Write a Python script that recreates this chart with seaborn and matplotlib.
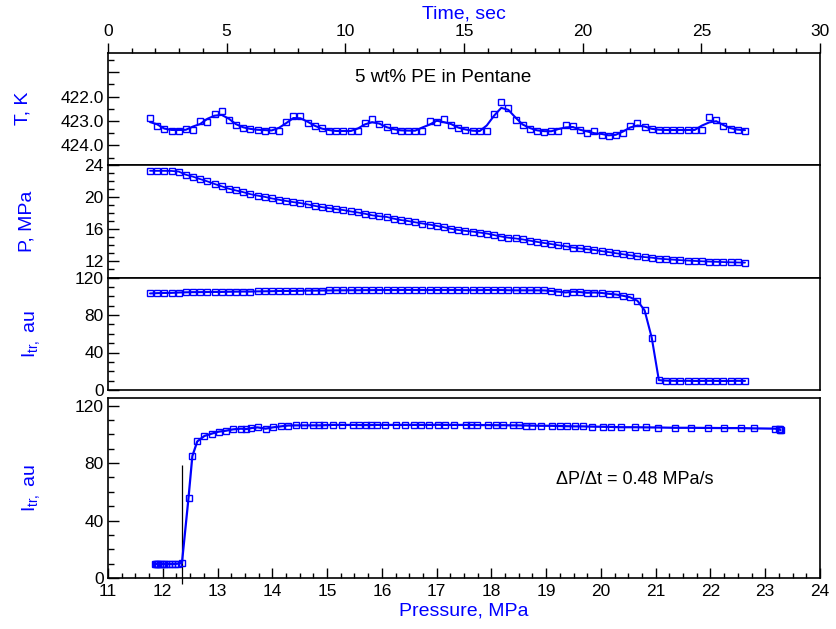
import numpy as np
import pandas as pd
import matplotlib
matplotlib.use("Agg")
import matplotlib.pyplot as plt
from matplotlib.ticker import MultipleLocator, FixedLocator, FixedFormatter
import seaborn as sns

# ---- measured series (one sample every ~0.3 s) ----
time_s = [1.77, 2.07, 2.37, 2.68, 2.98, 3.28, 3.58, 3.88, 4.19, 4.49,
          4.79, 5.09, 5.39, 5.70, 6.00, 6.30, 6.60, 6.90, 7.21, 7.51,
          7.81, 8.11, 8.41, 8.72, 9.02, 9.32, 9.62, 9.92, 10.23, 10.53,
          10.83, 11.13, 11.43, 11.74, 12.04, 12.34, 12.64, 12.94, 13.25, 13.55,
          13.85, 14.15, 14.45, 14.76, 15.06, 15.36, 15.66, 15.96, 16.27, 16.57,
          16.87, 17.17, 17.47, 17.78, 18.08, 18.38, 18.68, 18.98, 19.29, 19.59,
          19.89, 20.19, 20.49, 20.80, 21.10, 21.40, 21.70, 22.00, 22.31, 22.61,
          22.91, 23.21, 23.51, 23.82, 24.12, 24.42, 24.72, 25.02, 25.33, 25.63,
          25.93, 26.23, 26.53, 26.84]

temperature_K = [422.87, 423.22, 423.32, 423.39, 423.39, 423.33, 423.36, 422.99, 423.03, 422.71,
                 422.61, 422.94, 423.17, 423.28, 423.33, 423.36, 423.39, 423.37, 423.40, 423.06,
                 422.80, 422.78, 423.09, 423.22, 423.29, 423.43, 423.40, 423.40, 423.43, 423.40,
                 423.09, 422.92, 423.14, 423.26, 423.36, 423.39, 423.40, 423.39, 423.40, 423.00,
                 423.05, 422.92, 423.17, 423.28, 423.36, 423.40, 423.43, 423.41, 422.71, 422.22,
                 422.46, 422.96, 423.16, 423.31, 423.40, 423.44, 423.41, 423.41, 423.17, 423.21,
                 423.36, 423.51, 423.41, 423.58, 423.60, 423.58, 423.51, 423.20, 423.09, 423.26,
                 423.33, 423.37, 423.37, 423.37, 423.37, 423.37, 423.37, 423.36, 422.84, 422.98,
                 423.21, 423.31, 423.36, 423.39]

pressure_MPa = [23.28, 23.27, 23.27, 23.26, 23.18, 22.79, 22.55, 22.25, 21.96, 21.64,
                21.35, 21.05, 20.83, 20.62, 20.37, 20.19, 20.04, 19.84, 19.67, 19.52,
                19.38, 19.26, 19.10, 18.91, 18.75, 18.63, 18.50, 18.39, 18.22, 18.09,
                17.93, 17.74, 17.62, 17.54, 17.32, 17.15, 17.03, 16.87, 16.72, 16.58,
                16.42, 16.26, 16.06, 15.91, 15.80, 15.71, 15.59, 15.47, 15.28, 15.10,
                14.95, 14.86, 14.74, 14.58, 14.43, 14.29, 14.16, 14.01, 13.88, 13.73,
                13.62, 13.52, 13.43, 13.28, 13.16, 13.02, 12.89, 12.76, 12.63, 12.54,
                12.47, 12.35, 12.28, 12.22, 12.16, 12.11, 12.06, 12.02, 11.98, 11.95,
                11.92, 11.89, 11.87, 11.85]

intensity_au = [103.0, 103.3, 103.5, 103.6, 104.0, 104.2, 104.4, 104.4, 104.5, 104.6,
                104.6, 104.8, 104.9, 105.0, 105.0, 105.2, 105.3, 105.4, 105.6, 105.6,
                105.7, 105.8, 106.0, 106.0, 106.1, 106.2, 106.3, 106.3, 106.4, 106.4,
                106.5, 106.5, 106.6, 106.6, 106.6, 106.6, 106.7, 106.6, 106.6, 106.6,
                106.6, 106.6, 106.6, 106.6, 106.5, 106.5, 106.5, 106.6, 106.6, 106.6,
                106.4, 106.3, 106.3, 106.3, 106.3, 106.2, 105.6, 104.9, 104.0, 104.9,
                104.4, 103.7, 104.0, 103.5, 102.6, 101.9, 100.5, 98.9, 95.1, 84.9,
                55.8, 10.5, 10.0, 9.8, 9.7, 9.8, 9.6, 9.7, 9.8, 9.7,
                9.6, 9.7, 9.8, 9.7]

# cloud-point marker in the pressure scan
cloud_point_MPa = 12.35
cloud_marker_span = (-4, 79)

sample_label = "5 wt% PE in Pentane"
rate_label = "\u0394P/\u0394t = 0.48 MPa/s"

# ---- style ----
sns.set_theme(style="ticks")
plt.rcParams["font.family"] = ["Liberation Sans", "DejaVu Sans"]
plt.rcParams["mathtext.fontset"] = "custom"
plt.rcParams["mathtext.rm"] = "Liberation Sans"
plt.rcParams["mathtext.it"] = "Liberation Sans:italic"
plt.rcParams["axes.edgecolor"] = "black"
plt.rcParams["axes.linewidth"] = 1.2
plt.rcParams["xtick.color"] = "black"
plt.rcParams["ytick.color"] = "black"

BLUE = "#0000ff"
TICK_FS = 12.5
LABEL_FS = 14

df = pd.DataFrame({"time": time_s, "T": temperature_K,
                   "P": pressure_MPa, "I": intensity_au})
df["T_smooth"] = df["T"].rolling(3, center=True, min_periods=1).mean()

W_PX, H_PX = 836, 629
fig = plt.figure(figsize=(W_PX / 100, H_PX / 100), dpi=100)


def rect(top, bottom, left=108, right=820):
    return [left / W_PX, (H_PX - bottom) / H_PX, (right - left) / W_PX, (bottom - top) / H_PX]


ax1 = fig.add_axes(rect(52.5, 165))
ax2 = fig.add_axes(rect(165, 277.5), sharex=ax1)
ax3 = fig.add_axes(rect(277.5, 390), sharex=ax1)
ax4 = fig.add_axes(rect(397.5, 578))

mk = dict(marker="s", markerfacecolor="none", markeredgecolor=BLUE,
          markeredgewidth=1.0, markersize=4.6)

# temperature: smoothed trace plus raw samples
sns.lineplot(data=df, x="time", y="T_smooth", ax=ax1, color=BLUE, lw=1.5,
             estimator=None, sort=False)
sns.lineplot(data=df, x="time", y="T", ax=ax1, color=BLUE, linestyle="none",
             estimator=None, sort=False, **mk)

# pressure vs time
sns.lineplot(data=df, x="time", y="P", ax=ax2, color=BLUE, lw=1.3,
             estimator=None, sort=False, **mk)

# transmitted intensity vs time
sns.lineplot(data=df, x="time", y="I", ax=ax3, color=BLUE, lw=1.5,
             estimator=None, sort=False, **mk)

# transmitted intensity vs pressure
mk4 = dict(mk, markersize=4.0)
sns.lineplot(data=df, x="P", y="I", ax=ax4, color=BLUE, lw=1.6,
             estimator=None, sort=False, **mk4)
ax4.vlines(cloud_point_MPa, *cloud_marker_span, color="black", lw=0.9,
           clip_on=False, zorder=1)

# ---- axes formatting ----
ax1.set_xlim(0, 30)
ax1.xaxis.set_major_locator(MultipleLocator(5))
ax1.xaxis.set_minor_locator(MultipleLocator(1))
ax1.tick_params(axis="x", which="both", direction="out", top=True, bottom=False,
                labeltop=True, labelbottom=False, labelsize=TICK_FS, pad=2.5)
ax1.tick_params(axis="x", which="major", length=7.5, width=1.0)
ax1.tick_params(axis="x", which="minor", length=3.8, width=1.0)
ax1.xaxis.set_label_position("top")
ax1.set_xlabel("Time, sec", color=BLUE, fontsize=LABEL_FS, labelpad=4)

for ax in (ax2, ax3):
    ax.tick_params(axis="x", which="both", top=False, bottom=False,
                   labeltop=False, labelbottom=False)
    ax.set_xlabel("")

ax1.set_ylim(424.8, 420.2)
ax1.yaxis.set_major_locator(FixedLocator([421, 422, 423, 424]))
ax1.yaxis.set_major_formatter(FixedFormatter(["", "422.0", "423.0", "424.0"]))
ax1.yaxis.set_minor_locator(MultipleLocator(0.5))

ax2.set_ylim(10, 24)
ax2.yaxis.set_major_locator(FixedLocator([12, 16, 20, 24]))
ax2.yaxis.set_minor_locator(MultipleLocator(1))

ax3.set_ylim(0, 120)
ax3.yaxis.set_major_locator(FixedLocator([0, 40, 80, 120]))
ax3.yaxis.set_minor_locator(MultipleLocator(10))

ax4.set_xlim(11, 24)
ax4.set_ylim(0, 125.7)
ax4.xaxis.set_major_locator(MultipleLocator(1))
ax4.xaxis.set_minor_locator(MultipleLocator(0.25))
ax4.yaxis.set_major_locator(FixedLocator([0, 40, 80, 120]))
ax4.yaxis.set_minor_locator(MultipleLocator(10))
ax4.tick_params(axis="x", which="both", direction="in", bottom=True, top=False,
                labelsize=TICK_FS, pad=4.5)
ax4.tick_params(axis="x", which="major", length=7.5, width=1.0)
ax4.tick_params(axis="x", which="minor", length=3.8, width=1.0)
ax4.set_xlabel("Pressure, MPa", color=BLUE, fontsize=LABEL_FS, labelpad=2)

for ax in (ax1, ax2, ax3, ax4):
    ax.tick_params(axis="y", which="both", direction="in", left=True, right=False,
                   labelsize=TICK_FS, pad=3)
    ax.tick_params(axis="y", which="major", length=8, width=1.0)
    ax.tick_params(axis="y", which="minor", length=4.3, width=1.0)
    for sp in ax.spines.values():
        sp.set_visible(True)
        sp.set_color("black")
        sp.set_linewidth(1.2)

ylab = dict(color=BLUE, fontsize=LABEL_FS)
ax1.set_ylabel("T, K", **ylab)
ax2.set_ylabel("P, MPa", **ylab)
ax3.set_ylabel(r"I$_{\mathregular{tr,}}$ au", **ylab)
ax4.set_ylabel(r"I$_{\mathregular{tr,}}$ au", **ylab)
ax1.yaxis.set_label_coords(-0.108, 0.5)
ax2.yaxis.set_label_coords(-0.102, 0.5)
ax3.yaxis.set_label_coords(-0.092, 0.5)
ax4.yaxis.set_label_coords(-0.092, 0.5)

fig.text(355 / W_PX, 1 - 81.7 / H_PX, sample_label, fontsize=13.5,
         ha="left", va="baseline", color="black")
fig.text(556 / W_PX, 1 - 484.3 / H_PX, rate_label, fontsize=13,
         ha="left", va="baseline", color="black")

fig.savefig("out.png", dpi=100)
